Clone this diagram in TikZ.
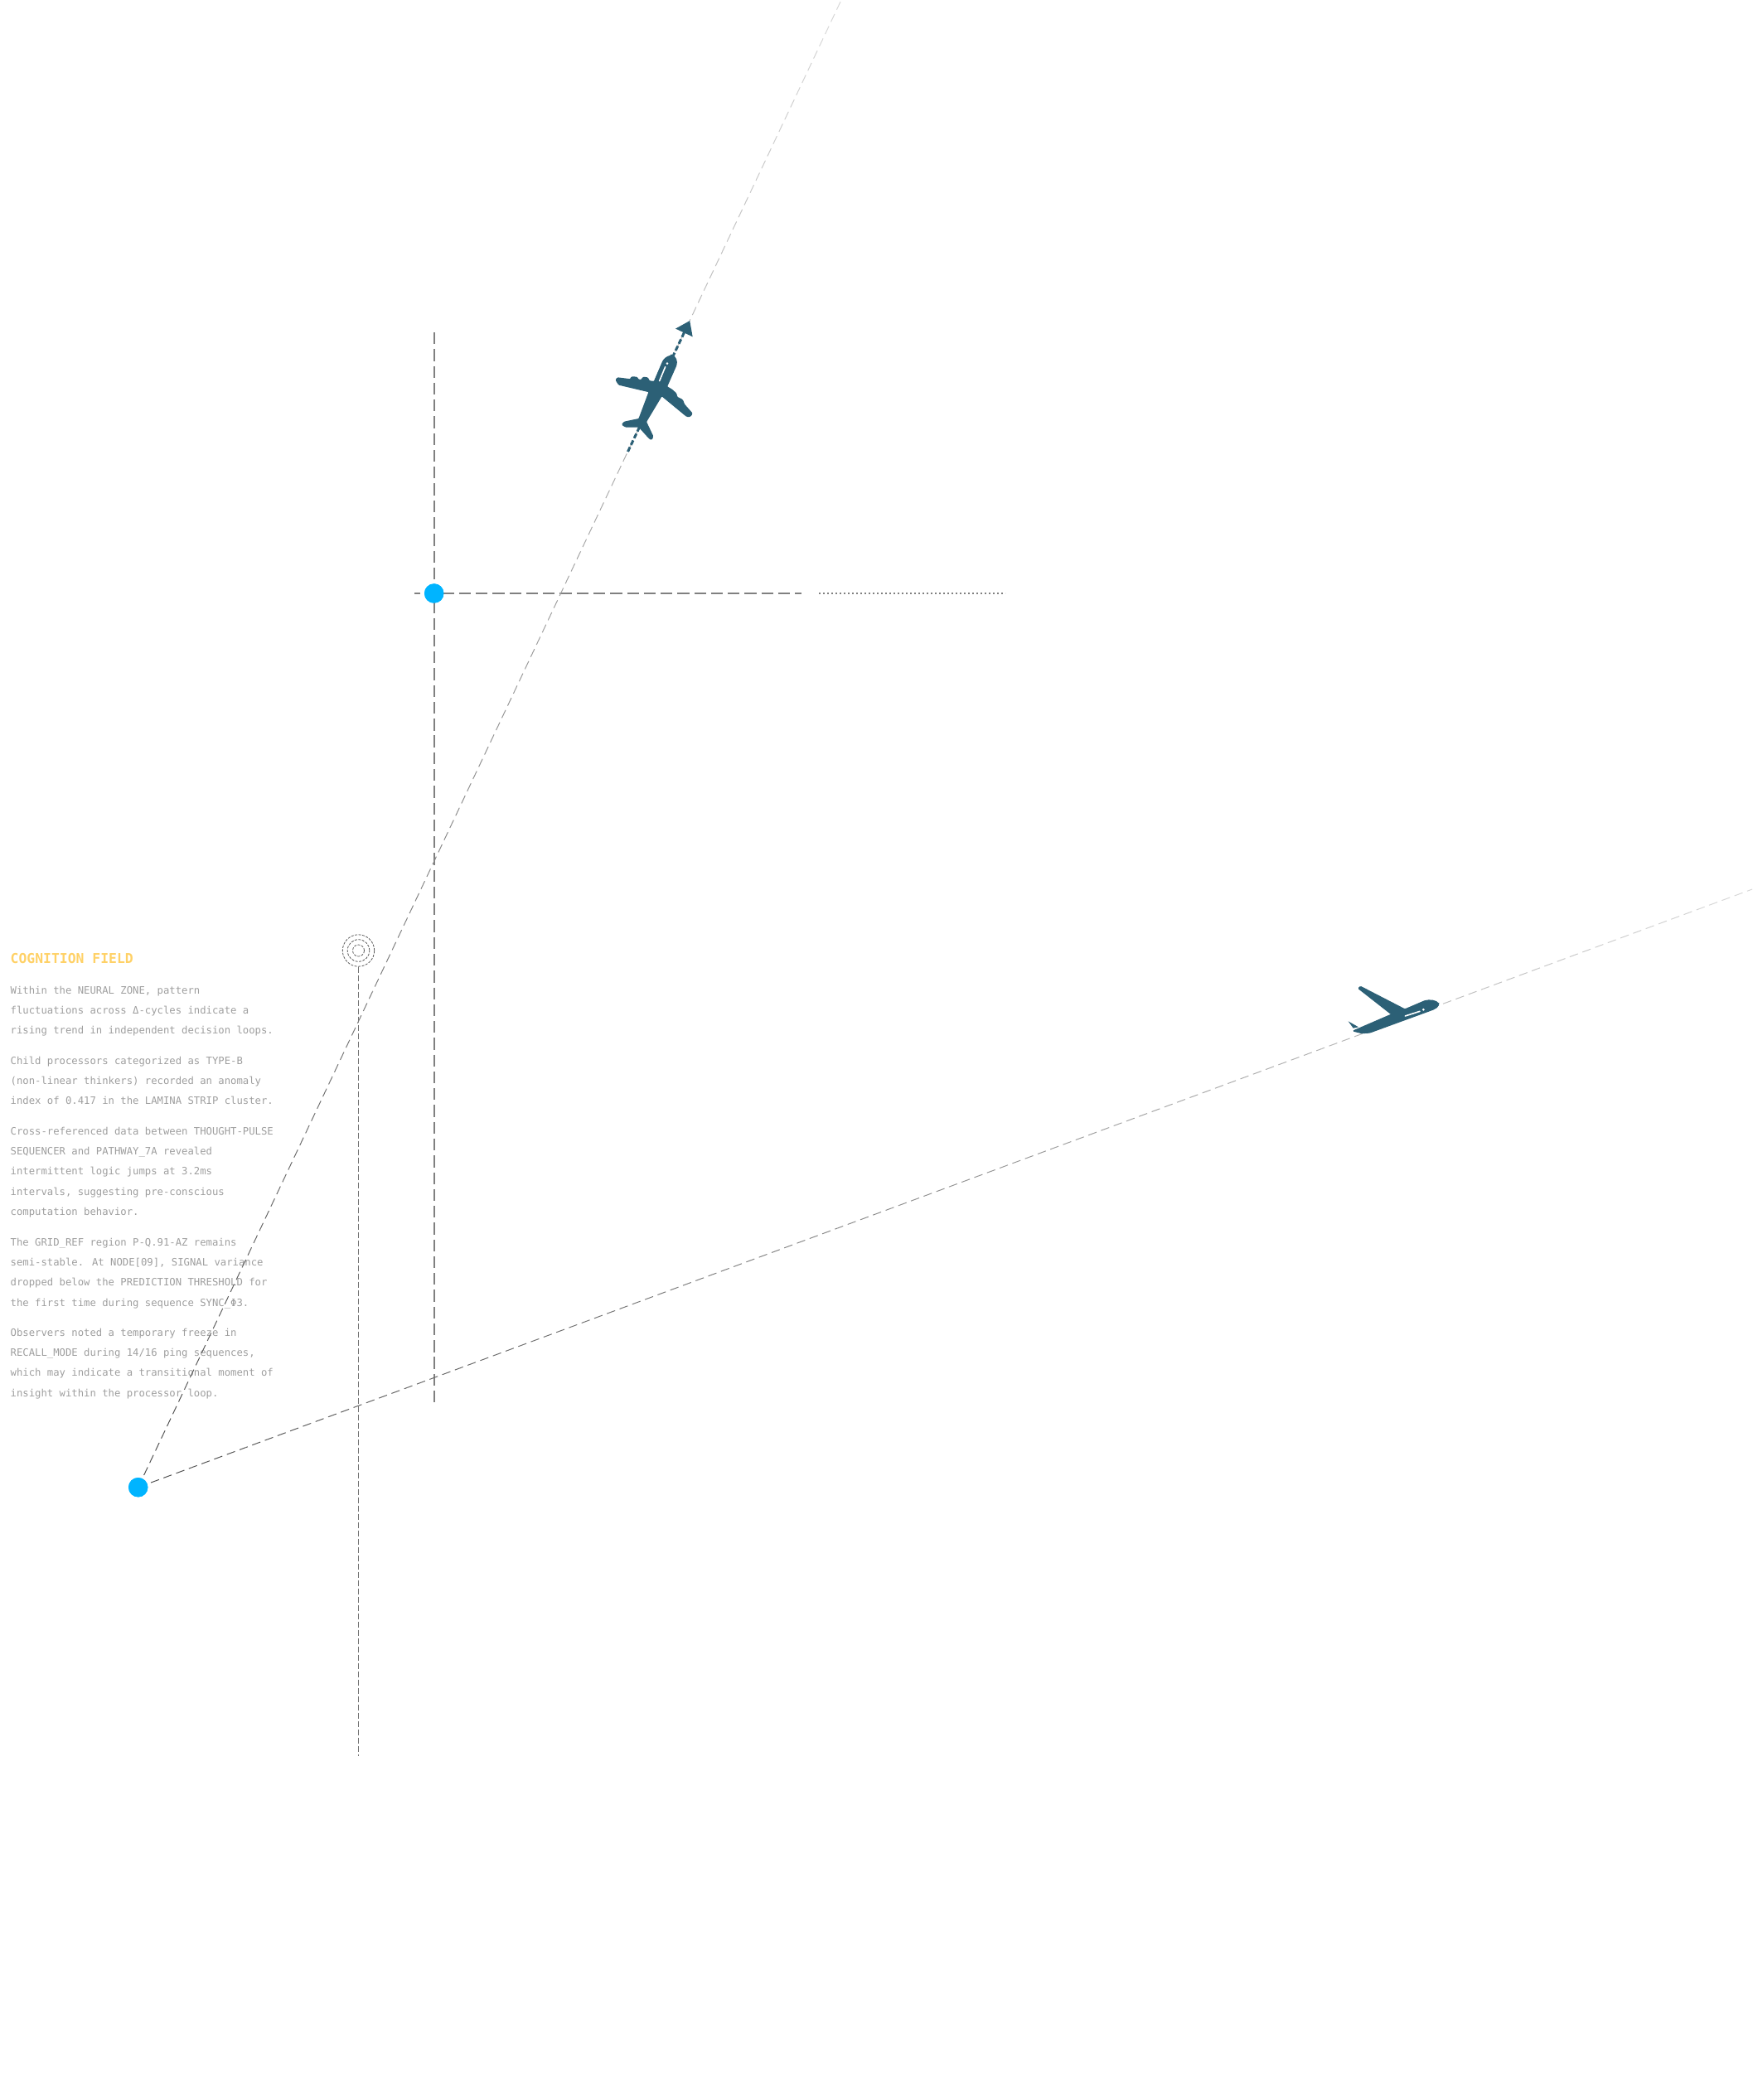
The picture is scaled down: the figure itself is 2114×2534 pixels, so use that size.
\documentclass[tikz,border=0pt]{standalone}
\usepackage{fontspec}
\usetikzlibrary{calc,arrows.meta}
\newfontfamily\panelfont{DejaVu Sans Mono}
\definecolor{planeblue}{HTML}{2C6076}
\definecolor{dotblue}{HTML}{00B4FF}
\definecolor{titlegold}{HTML}{FFD166}
\definecolor{railgrey}{HTML}{808080}
\tikzset{
  panelhead/.style={
    anchor = base west,
    inner sep = 0pt,
    text = titlegold,
    font = \panelfont\bfseries\fontsize{16.4}{20}\selectfont
  },
  paneltext/.style={
    anchor = north west,
    inner sep = 0pt,
    align = left,
    text = black!38,
    font = \panelfont\fontsize{12.25}{24.3}\selectfont
  },
  dotmark/.style={
    shape = circle,
    inner sep = 0pt,
    minimum size = 23.4pt,
    fill = dotblue
  },
  ring/.style={
    shape = circle,
    inner sep = 0pt,
    draw = black!65,
    line width = 0.8pt,
    dash pattern = on 3pt off 1.5pt
  },
  rail/.style={
    draw = railgrey,
    line width = 2pt,
    dash pattern = on 14.3pt off 5.97pt
  },
  route/.style={
    line width = 1pt,
    dash pattern = on 10.5pt off 5.8pt
  }
}
\newcommand\FadeRoute[3]{%
  \foreach \i in {1,...,30}{
    \pgfmathsetmacro\tA{(\i-1)/30}
    \pgfmathsetmacro\tB{\i/30}
    \pgfmathsetmacro\Ink{68-54*\tA}
    \pgfmathsetmacro\Phase{\tA*#3}
    \draw[route, draw=black!\Ink, dash phase=\Phase pt] ($(#1)!\tA!(#2)$) -- ($(#1)!\tB!(#2)$);
  }
}
\begin{document}
\begin{tikzpicture}[x=1pt,y=-1pt]
  \useasboundingbox (0,0) rectangle (2114,2534);

  \node[panelhead] (title) at (12.5,1162) {COGNITION FIELD};
  \node[paneltext] (paraA) at (12.5,1182) {Within the NEURAL ZONE, pattern\strut\\fluctuations across Δ-cycles indicate a\strut\\rising trend in independent decision loops.\strut};
  \node[paneltext] (paraB) at (12.5,1267) {Child processors categorized as TYPE-B\strut\\(non-linear thinkers) recorded an anomaly\strut\\index of 0.417 in the LAMINA STRIP cluster.\strut};
  \node[paneltext] (paraC) at (12.5,1352) {Cross-referenced data between THOUGHT-PULSE\strut\\SEQUENCER and PATHWAY\_7A revealed\strut\\intermittent logic jumps at 3.2ms\strut\\intervals, suggesting pre-conscious\strut\\computation behavior.\strut};
  \node[paneltext] (paraD) at (12.5,1486) {The GRID\_REF region P-Q.91-AZ remains\strut\\semi-stable. At NODE[09], SIGNAL variance\strut\\dropped below the PREDICTION THRESHOLD for\strut\\the first time during sequence SYNC\_Φ3.\strut};
  \node[paneltext] (paraE) at (12.5,1595) {Observers noted a temporary freeze in\strut\\RECALL\_MODE during 14/16 ping sequences,\strut\\which may indicate a transitional moment of\strut\\insight within the processor loop.\strut};

  \coordinate (railtop) at (523.7,401);
  \coordinate (railbottom) at (523.7,1692);
  \coordinate (railleft) at (500,716);
  \coordinate (railright) at (967,716);
  \coordinate (dotstart) at (988,716);
  \coordinate (dotend) at (1213,716);
  \coordinate (probefoot) at (432.5,2119);
  \coordinate (routeAend) at (1015,0);
  \coordinate (routeBend) at (2114,1073);
  \coordinate (trailstart) at (757.5,545);
  \coordinate (trailend) at (832.2,387);

  \node[dotmark] (hub) at (523.7,716) {};
  \node[dotmark] (origin) at (166.7,1794.7) {};
  \node[ring, minimum size = 38.4pt] (ringout) at (432.5,1147) {};
  \node[ring, minimum size = 26.6pt] (ringmid) at (432.5,1147) {};
  \node[ring, minimum size = 14pt] (ringin) at (432.5,1147) {};

  % rails
  \draw[rail] (railtop) -- (railbottom);
  \draw[rail, dash phase=7pt] (railleft) -- (railright);
  \draw[draw=railgrey, line width=2pt, dash pattern=on 2pt off 3pt] (dotstart) -- (dotend);
  \draw[draw=black!55, line width=1pt, dash pattern=on 7pt off 3pt] (ringout.south) -- (probefoot);

  % routes
  \FadeRoute{origin}{routeAend}{1985.2}
  \FadeRoute{origin}{routeBend}{2076.6}
  \draw[draw=planeblue, line width=3pt, dash pattern=on 6pt off 3pt, -{Triangle[length=16pt,width=22pt]}] (trailstart) -- (trailend);

  \node[dotmark] at (hub) {};
  \node[dotmark] at (origin) {};

  % plane on the steep route
  \begin{scope}[shift={(700,360)},x=0.3333pt,y=-0.3333pt]
    \filldraw[planeblue, line width=1.4pt, rounded corners=1pt] (330,208) .. controls (345,210) and (352,228) .. (346,245)
      -- (313,320) -- (333,332) -- (347,345) -- (350,358) -- (370,368) -- (376,384) -- (405,417)
      -- (398,427) -- (386,427) -- (295,352) -- (238,447) -- (263,500) -- (258,511) -- (250,506)
      -- (213,465) -- (165,465) -- (152,457) -- (160,448) -- (213,437) -- (250,338) -- (140,312)
      -- (130,296) -- (135,288) -- (182,294) -- (186,285) -- (205,286) -- (210,295) -- (222,296)
      -- (228,286) -- (244,288) -- (250,300) -- (268,302) -- (298,232) .. controls (303,220) and (316,210) .. cycle;
    \draw[white, line width=1.6pt, line cap=round] (308,248) -- (287,299);
    \fill[white] (315,236) circle (4.5);
  \end{scope}

  % plane on the shallow route
  \begin{scope}[shift={(1600,1170)},x=0.3333pt,y=-0.3333pt]
    \filldraw[planeblue, line width=1.2pt, rounded corners=1pt] (407,125) .. controls (400,112) and (375,108) .. (355,114)
      -- (285,144) -- (124,61) -- (117,68) -- (237,162) -- (98,222) -- (130,230) -- (158,228)
      -- (385,145) .. controls (397,140) and (405,134) .. cycle;
    \fill[planeblue] (80,187) -- (117,208) -- (98,212) -- cycle;
    \draw[white, line width=1.6pt, line cap=round] (286,168) -- (339,151);
    \fill[white] (352,145) circle (4.5);
  \end{scope}
\end{tikzpicture}
\end{document}
